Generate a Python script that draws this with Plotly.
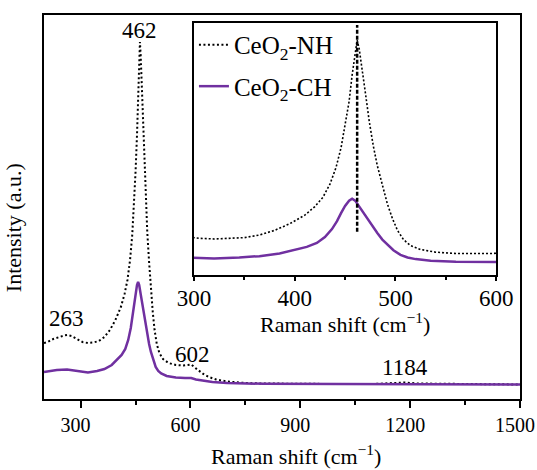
import plotly.graph_objects as go

# Raman spectra (intensity in arbitrary units)
nh_shift = [200, 210, 225, 240, 255, 263, 275, 290, 305, 320, 335, 350, 365, 380, 395,
            410, 420, 428, 435, 441, 446, 450, 454, 457, 460, 462, 464, 467, 470, 474,
            478, 482, 487, 492, 497, 502, 508, 515, 525, 540, 560, 580, 595, 602, 610,
            620, 635, 650, 670, 700, 750, 800, 900, 1000, 1100, 1150, 1184, 1220, 1300,
            1400, 1500]
nh_intensity = [57, 58, 61, 63, 64.5, 65, 64, 61, 58, 57, 57.5, 59, 63, 70, 80,
                93, 106, 120, 140, 165, 195, 228, 265, 305, 340, 358, 345, 315, 280, 235,
                198, 168, 138, 110, 88, 70, 56, 47, 41, 37, 35, 34.5, 35, 35.5, 33,
                30, 26, 23, 20.5, 18.5, 17, 16.5, 16, 16, 16, 16.5, 17.5, 16.5, 16,
                15.8, 15.5]

ch_shift = [200, 215, 235, 263, 290, 320, 345, 365, 385, 400, 412, 422, 430, 437, 442,
            446, 450, 454, 457, 460, 464, 468, 472, 477, 482, 487, 492, 498, 505, 512,
            520, 535, 560, 585, 602, 615, 630, 660, 700, 800, 1000, 1200, 1500]
ch_intensity = [28, 29, 30, 30.5, 29, 27.5, 29, 31, 35, 40, 45, 51, 60, 72, 84,
                96, 107, 115, 118, 115, 106, 97, 88, 76, 66, 56, 48, 40, 33, 29,
                26.5, 24, 22.5, 22, 22, 20.5, 19.5, 18, 17, 16.2, 16, 16, 15.5]

# Labelled band positions and label heights
band_labels = ["263", "462", "602", "1184"]
band_label_x = [262, 462, 605, 1186]
band_label_y = [82, 370, 46, 33]

# F2g mode marker in the inset
f2g_position = 462
f2g_marker_y = [68, 381]

main_ticks = [300, 600, 900, 1200, 1500]
inset_ticks = [300, 400, 500, 600]

PURPLE = "#7030A0"
FONT = "Liberation Serif, Times New Roman, serif"

fig = go.Figure()

# Main panel
fig.add_trace(go.Scatter(x=nh_shift, y=nh_intensity, mode="lines",
                         name="CeO<sub>2</sub>-NH", legendgroup="nh",
                         line=dict(color="black", width=2, dash="2px,2.5px")))
fig.add_trace(go.Scatter(x=ch_shift, y=ch_intensity, mode="lines",
                         name="CeO<sub>2</sub>-CH", legendgroup="ch",
                         line=dict(color=PURPLE, width=2.5)))

# Inset: same spectra, zoomed around the F2g band
fig.add_trace(go.Scatter(x=nh_shift, y=nh_intensity, mode="lines", xaxis="x2", yaxis="y2",
                         showlegend=False, line=dict(color="black", width=1.6, dash="2px,2px")))
fig.add_trace(go.Scatter(x=ch_shift, y=ch_intensity, mode="lines", xaxis="x2", yaxis="y2",
                         showlegend=False, line=dict(color=PURPLE, width=2.5)))
fig.add_trace(go.Scatter(x=[f2g_position, f2g_position], y=f2g_marker_y, mode="lines",
                         xaxis="x2", yaxis="y2", showlegend=False,
                         line=dict(color="black", width=2.5, dash="4px,2px")))

for txt, bx, by in zip(band_labels, band_label_x, band_label_y):
    fig.add_annotation(x=bx, y=by, xref="x", yref="y", text=txt, showarrow=False,
                       font=dict(family=FONT, size=23, color="black"))

fig.add_annotation(x=-0.065, y=0.445, xref="paper", yref="paper", text="Intensity (a.u.)",
                   textangle=-90, showarrow=False, xanchor="center", yanchor="middle",
                   font=dict(family=FONT, size=22, color="black"))
fig.add_annotation(x=0.529, y=-0.146, xref="paper", yref="paper",
                   text="Raman shift (cm<sup>\u22121</sup>)", showarrow=False,
                   xanchor="center", yanchor="middle",
                   font=dict(family=FONT, size=22, color="black"))
# Inset axis title
fig.add_annotation(x=0.6325, y=0.199, xref="paper", yref="paper",
                   text="Raman shift (cm<sup>\u22121</sup>)", showarrow=False,
                   xanchor="center", yanchor="middle",
                   font=dict(family=FONT, size=22, color="black"))

axis_common = dict(showline=True, linecolor="black", linewidth=2, mirror=True,
                   showgrid=False, zeroline=False, automargin=False)

fig.update_layout(
    width=537, height=470,
    margin=dict(l=44, r=17, t=15, b=71, autoexpand=False),
    paper_bgcolor="white", plot_bgcolor="white",
    font=dict(family=FONT, color="black"),
    xaxis=dict(range=[200, 1500], tickvals=main_ticks, ticks="outside", ticklen=7,
               tickwidth=2, tickcolor="black", ticklabelshift=-5,
               tickfont=dict(family=FONT, size=20, color="black"),
               minor=dict(tickvals=[450, 750, 1050, 1350], ticks="outside", ticklen=4,
                          tickwidth=2, tickcolor="black"),
               **axis_common),
    yaxis=dict(range=[1, 385], showticklabels=False, ticks="", **axis_common),
    xaxis2=dict(domain=[0.315, 0.950], anchor="y2", range=[300, 600], tickvals=inset_ticks,
                ticks="outside", ticklen=4, tickwidth=2, tickcolor="black",
                ticklabelstandoff=-3,
                tickfont=dict(family=FONT, size=23, color="black"),
                minor=dict(tickvals=[350, 450, 550], ticks="outside", ticklen=3,
                           tickwidth=2, tickcolor="black"),
                **axis_common),
    yaxis2=dict(domain=[0.323, 0.979], anchor="x2", range=[2.5, 383.8],
                showticklabels=False, ticks="", **axis_common),
    showlegend=True,
    legend=dict(x=0.315, y=0.982, xanchor="left", yanchor="top",
                bgcolor="rgba(0,0,0,0)", tracegroupgap=6,
                font=dict(family=FONT, size=25, color="black")),
)

fig.write_html("out.html")
